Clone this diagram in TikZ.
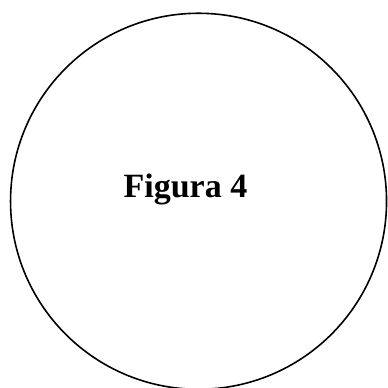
\documentclass[tikz,border=0pt]{standalone}
\usepackage{fontspec}
\setmainfont{Liberation Serif}
\usetikzlibrary{positioning}

\begin{document}
\begin{tikzpicture}[x=1pt, y=1pt]
    % Frame of the picture
    \useasboundingbox (0,0) rectangle (291,290.25);

    % Big circle
    \node[draw, circle, line width=1.2pt, minimum size=282pt, inner sep=0pt] (fig) at (148.9,139.3) {};

    % Caption inside
    \node[anchor=base, font=\bfseries\fontsize{25.5}{30}\selectfont, inner sep=0pt] (caption) at (139.1,142.5) {Figura 4};
\end{tikzpicture}
\end{document}
